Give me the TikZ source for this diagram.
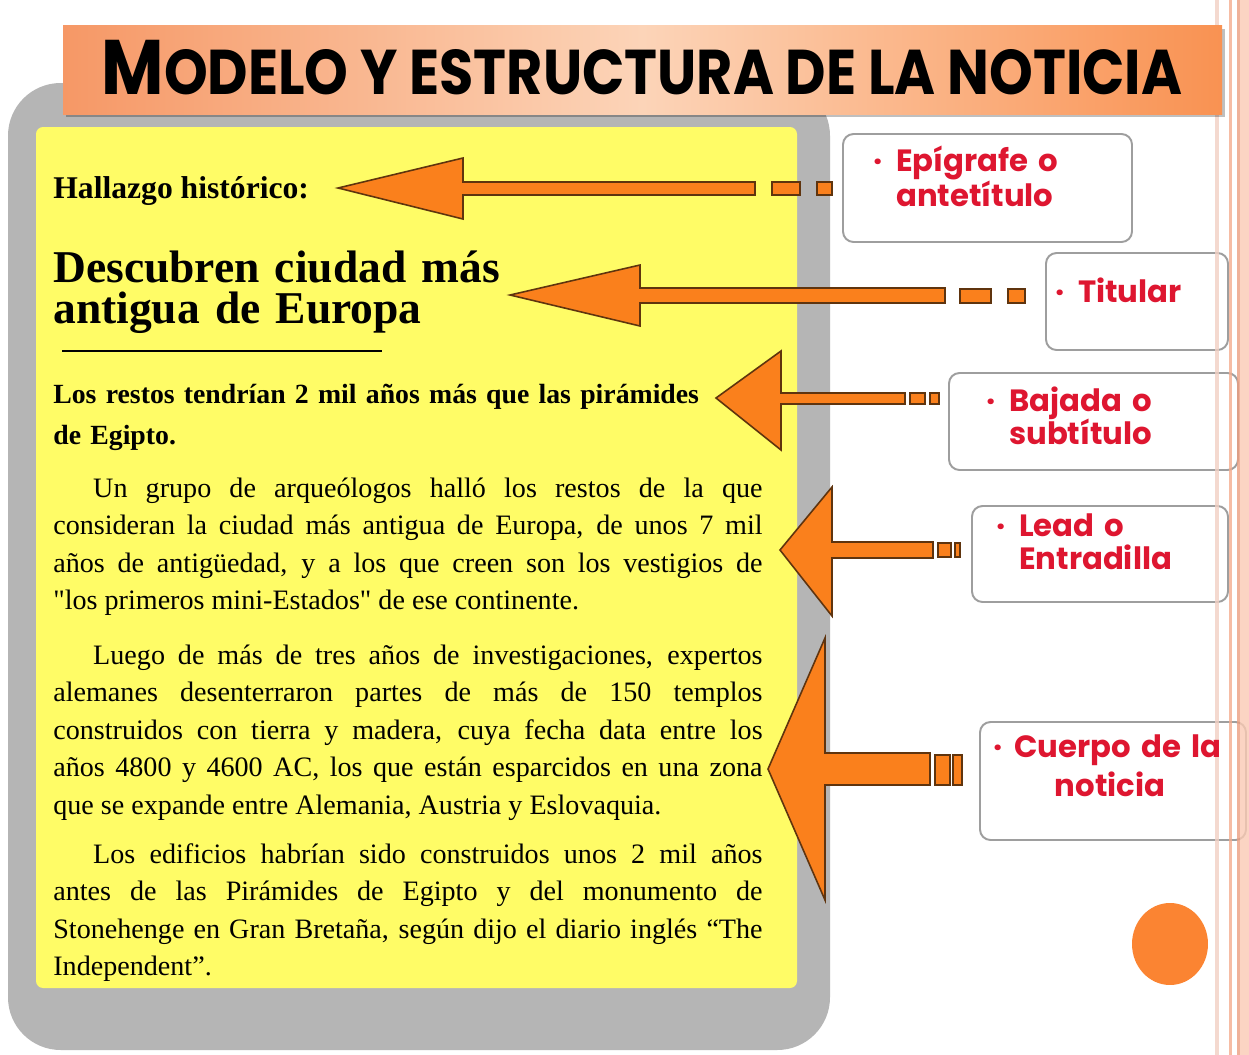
\documentclass[tikz,border=0pt]{standalone}
\usepackage{fontspec}
\usepackage{graphicx}
\setmainfont{Liberation Serif}
\newfontfamily\sernl{Liberation Serif}
\newfontfamily\comicf{Poppins}
\definecolor{yel}{RGB}{255,252,102}
\definecolor{panelgray}{RGB}{181,181,181}
\definecolor{arrorange}{RGB}{250,128,28}
\definecolor{arrbrown}{RGB}{95,52,14}
\definecolor{labred}{RGB}{222,22,48}
\definecolor{boxgray}{RGB}{158,158,158}
\definecolor{dotorange}{RGB}{251,132,50}
\definecolor{stripeA}{RGB}{242,208,196}
\definecolor{stripeB}{RGB}{244,172,142}
\definecolor{stripeC}{RGB}{250,202,180}
\definecolor{stripeD}{RGB}{236,158,128}
\definecolor{banL}{RGB}{246,152,102}
\definecolor{banM}{RGB}{252,212,184}
\definecolor{banR}{RGB}{249,146,82}
\begin{document}
\begin{tikzpicture}[x=0.02cm,y=-0.02cm,
  arr/.style={fill=arrorange,draw=arrbrown,line width=0.9pt,line join=miter},
  lab/.style={draw=boxgray,fill=white,line width=1.1pt,rounded corners=6pt},
  labtxt/.style={anchor=base west,inner sep=0pt,text=labred,text width=160pt,align=left,
     font=\comicf\bfseries\fontsize{17.5}{19.3}\selectfont},
  bodytxt/.style={anchor=base west,inner sep=0pt,text width=403.7pt,align=justify,
     font=\fontsize{16}{21.4}\selectfont},
  headtxt/.style={anchor=base west,inner sep=0pt,text width=420pt,align=left}
]
\useasboundingbox (0,0) rectangle (1249,1055);
\fill[white] (0,0) rectangle (1249,1055);

% gray panel and yellow sheet
\fill[panelgray,rounded corners=30pt] (8,83) rectangle (830,1050);
\fill[yel,rounded corners=4pt] (36,127) rectangle (797,988);

% label boxes
\path[lab] (843,134) rectangle (1132,242);
\path[lab] (1046,253) rectangle (1228,350);
\path[lab] (949,373) rectangle (1238,470);
\path[lab] (972,506) rectangle (1228,602);
\path[lab] (980,722) rectangle (1246,840);

% right stripes
\fill[stripeA,opacity=0.8] (1215,0) rectangle (1219,1055);
\fill[stripeB,opacity=0.8] (1229,0) rectangle (1232,1055);
\fill[stripeD,opacity=0.8] (1237,0) rectangle (1240,1055);
\fill[stripeC,opacity=0.8] (1240,0) rectangle (1249,1055);

% title banner
\fill[black,opacity=0.25] (66,29) rectangle (1225,117);
\shade[left color=banL,right color=banR,middle color=banM] (63,25) rectangle (1222,114);
\node[anchor=base,inner sep=0pt] (title) at (642,94)
  {\resizebox{615pt}{\height}{\comicf\bfseries\fontsize{44}{44}\selectfont M\fontsize{36}{36}\selectfont ODELO Y ESTRUCTURA DE LA NOTICIA}};

% news text
\node[anchor=base west,inner sep=0pt,font=\bfseries\fontsize{18}{20}\selectfont] (epig) at (53,198) {Hallazgo histórico:};
\node[headtxt,font=\bfseries\fontsize{25.9}{23.8}\selectfont] (headline) at (53,282) {Descubren ciudad más\\antigua de Europa};
\draw[line width=1.4pt] (62,351) -- (382,351);
\node[headtxt,text width=404pt,font=\bfseries\fontsize{15.8}{23.8}\selectfont] (subt) at (53,403)
  {Los restos tendrían 2 mil años más que las pirámides\\de Egipto.};
\node[bodytxt] (p1) at (53,497) {\hspace*{22.7pt}Un grupo de arqueólogos halló los restos de la que\linebreak
consideran la ciudad más antigua de Europa, de unos 7 mil\linebreak
años de antigüedad, y a los que creen son los vestigios de\linebreak
{\sernl"}los primeros mini-Estados{\sernl"} de ese continente.};
\node[bodytxt] (p2) at (53,664) {\hspace*{22.7pt}Luego de más de tres años de investigaciones, expertos\linebreak
alemanes desenterraron partes de más de 150 templos\linebreak
construidos con tierra y madera, cuya fecha data entre los\linebreak
años 4800 y 4600 AC, los que están esparcidos en una zona\linebreak
que se expande entre Alemania, Austria y Eslovaquia.};
\node[bodytxt] (p3) at (53,863) {\hspace*{22.7pt}Los edificios habrían sido construidos unos 2 mil años\linebreak
antes de las Pirámides de Egipto y del monumento de\linebreak
Stonehenge en Gran Bretaña, según dijo el diario inglés “The\linebreak
Independent”.};

% arrows
\draw[arr] (338,188) -- (463,158) -- (463,182) -- (755,182) -- (755,195) -- (463,195) -- (463,219) -- cycle;
\draw[arr] (772,182) rectangle (800,195);
\draw[arr] (817,182) rectangle (832,195);

\draw[arr] (510,295) -- (640,265) -- (640,288) -- (945,288) -- (945,303) -- (640,303) -- (640,326) -- cycle;
\draw[arr] (960,289) rectangle (991,303);
\draw[arr] (1008,289) rectangle (1025,303);

\draw[arr] (716,398) -- (781,351) -- (781,393) -- (905,393) -- (905,404) -- (781,404) -- (781,450) -- cycle;
\draw[arr] (910,393) rectangle (925,404);
\draw[arr] (930,393) rectangle (939,404);

\draw[arr] (780,550) -- (832,487) -- (832,542) -- (933,542) -- (933,558) -- (832,558) -- (832,616) -- cycle;
\draw[arr] (938,543) rectangle (951,557);
\draw[arr] (955,543) rectangle (960,557);

\draw[arr] (768,769) -- (825,638) -- (825,753) -- (930,753) -- (930,785) -- (825,785) -- (825,900) -- cycle;
\draw[arr] (935,755) rectangle (950,785);
\draw[arr] (953,755) rectangle (962,785);

% label texts
\node[labtxt] (l1) at (873,171) {\makebox[13pt][l]{·}Epígrafe o\\\hspace*{13pt}antetítulo};
\node[labtxt] (l2) at (1055,302) {\makebox[13pt][l]{·}Titular};
\node[labtxt] (l3) at (986,411) {\makebox[13pt][l]{·}Bajada o\\\hspace*{13pt}subtítulo};
\node[labtxt] (l4) at (996,536) {\makebox[13pt][l]{·}Lead o\\\hspace*{13pt}Entradilla};
\node[labtxt] (l5) at (993,757) {\makebox[12pt][l]{·}Cuerpo de la\\[3pt]\hspace*{35pt}noticia};

% orange dot
\fill[dotorange] (1170,944) ellipse [x radius=0.76cm, y radius=0.82cm];
\end{tikzpicture}
\end{document}
